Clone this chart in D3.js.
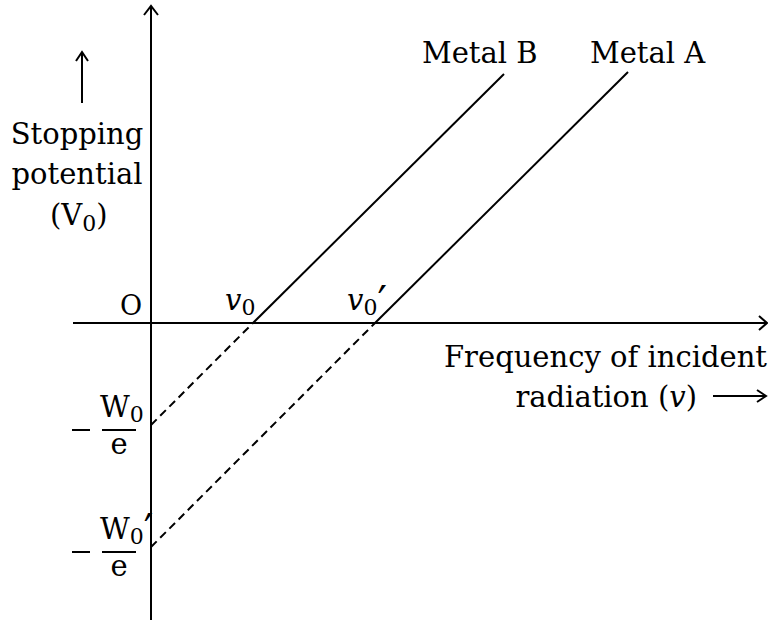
<!DOCTYPE html>
<html>
<head>
<meta charset="utf-8">
<script src="https://cdn.jsdelivr.net/npm/d3@7.9.0/dist/d3.min.js"></script>
<style>
  body { margin: 0; background: #fff; }
  svg text { font-family: "DejaVu Serif", "Liberation Serif", serif; fill: #000; }
  .prime { font-family: "DejaVu Sans", sans-serif; }
</style>
</head>
<body>
<svg id="chart" width="768" height="620"></svg>
<script>
// frequency where each metal starts emitting (threshold), and where its line ends
const metals = ['Metal B', 'Metal A'];
const thresholds = [1.02, 2.24];     // v0, v0'
const intercepts = [-1.02, -2.24];   // -W0/e, -W0'/e
const lineEnds = [3.53, 4.77];
const stopEnds = [2.49, 2.51];
const thresholdLabels = ['v', 'v'];
const primes = ['', '′'];

const svg = d3.select('#chart');
const fs = 29;

let x = d3.scaleLinear().domain([-0.78, 6.17]).range([73, 768]);
let y = d3.scaleLinear().domain([-2.97, 3.18]).range([620, 5]);

const x0 = x(0), y0 = y(0);

function stroke(sel) {
  return sel.attr('fill', 'none').attr('stroke', '#000').attr('stroke-width', 2);
}

// axes
stroke(svg.append('line')).attr('x1', x(-0.78)).attr('x2', x(6.17) - 1).attr('y1', y0).attr('y2', y0);
stroke(svg.append('line')).attr('x1', x0).attr('x2', x0).attr('y1', y(-2.97)).attr('y2', y(3.18) + 1);

// arrow heads
stroke(svg.append('path'))
  .attr('d', `M${x(6.17) - 9},${y0 - 7} L${x(6.17) - 1},${y0} L${x(6.17) - 9},${y0 + 7}`);
stroke(svg.append('path'))
  .attr('d', `M${x0 - 7},${y(3.18) + 10} L${x0},${y(3.18) + 1} L${x0 + 7},${y(3.18) + 10}`);

let line = d3.line().x((d) => x(d[0])).y((d) => y(d[1]));
const metalLabelX = [422, 590];

metals.forEach((name, i) => {
  // dashed part below the axis
  stroke(svg.append('path'))
    .attr('d', line([[0, intercepts[i]], [thresholds[i], 0]]))
    .attr('stroke-dasharray', '8,5');
  // solid part
  stroke(svg.append('path'))
    .attr('d', line([[thresholds[i], 0], [lineEnds[i], stopEnds[i]]]));

  svg.append('text')
    .attr('x', metalLabelX[i]).attr('y', 63)
    .attr('font-size', fs)
    .text(name);

  // v0 labels
  let t = svg.append('text')
    .attr('x', x(thresholds[i]) - 28).attr('y', y0 - 13)
    .attr('font-size', fs);
  t.append('tspan').attr('font-style', 'italic').text(thresholdLabels[i]);
  t.append('tspan').attr('font-size', 22).attr('dy', 5).text('0');
  if (primes[i]) t.append('tspan').attr('class', 'prime').attr('dy', 1)
    .attr('font-size', 42).text(primes[i]);

  // -W0/e labels
  let fy = y(intercepts[i]) + 5;
  stroke(svg.append('line')).attr('x1', 72).attr('x2', 90).attr('y1', fy).attr('y2', fy);
  stroke(svg.append('line')).attr('x1', 102).attr('x2', 136).attr('y1', fy).attr('y2', fy);
  let w = svg.append('text').attr('x', 100).attr('y', fy - 13).attr('font-size', fs);
  w.append('tspan').text('W');
  w.append('tspan').attr('font-size', 22).attr('dy', 5).text('0');
  if (primes[i]) w.append('tspan').attr('class', 'prime').attr('dy', 0)
    .attr('font-size', 42).text(primes[i]);
  svg.append('text').attr('x', 119).attr('y', fy + 24).attr('text-anchor', 'middle')
    .attr('font-size', fs).text('e');
});

// origin
svg.append('text').attr('x', 131).attr('y', 315).attr('text-anchor', 'middle')
  .attr('font-size', 27).text('O');

// y axis label
svg.append('text').attr('x', 77).attr('y', 144).attr('text-anchor', 'middle')
  .attr('font-size', fs).text('Stopping');
svg.append('text').attr('x', 77).attr('y', 184).attr('text-anchor', 'middle')
  .attr('font-size', fs).text('potential');
let v = svg.append('text').attr('x', 50).attr('y', 225).attr('font-size', fs);
v.append('tspan').text('(V');
v.append('tspan').attr('font-size', 22).attr('dy', 6).text('0');
v.append('tspan').attr('dy', -6).text(')');

stroke(svg.append('line')).attr('x1', 82).attr('x2', 82).attr('y1', 103).attr('y2', 53);
stroke(svg.append('path')).attr('d', 'M76,61 L82,52 L88,61');

// x axis label
svg.append('text').attr('x', 767).attr('y', 367).attr('text-anchor', 'end')
  .attr('font-size', fs).text('Frequency of incident');
let r = svg.append('text').attr('x', 697).attr('y', 407).attr('text-anchor', 'end')
  .attr('font-size', fs);
r.append('tspan').text('radiation (');
r.append('tspan').attr('font-style', 'italic').text('v');
r.append('tspan').text(')');

stroke(svg.append('line')).attr('x1', 713).attr('x2', 766).attr('y1', 396).attr('y2', 396);
stroke(svg.append('path')).attr('d', 'M757,390 L766,396 L757,402');
</script>
</body>
</html>
